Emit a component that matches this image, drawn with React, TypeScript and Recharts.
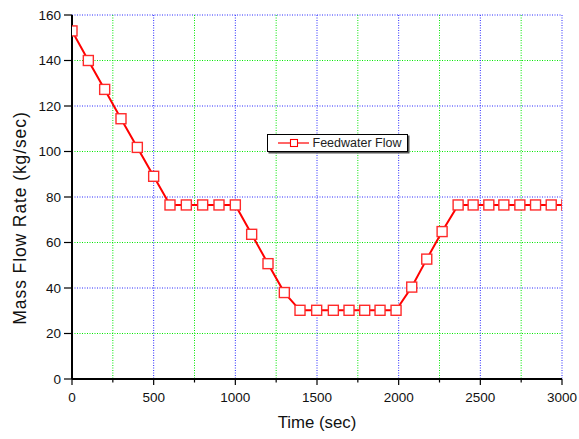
import React from 'react';
import {
  LineChart,
  Line,
  XAxis,
  YAxis,
  CartesianGrid,
} from 'recharts';

// Feedwater flow transient: time (sec) and mass flow rate (kg/sec)
const timeSec = [
  0, 100, 200, 300, 400, 500, 600, 700, 800, 900, 1000, 1100, 1200, 1300,
  1396, 1498, 1600, 1696, 1792, 1886, 1984, 2080, 2172, 2266, 2364, 2456,
  2552, 2644, 2742, 2838, 2934, 3030,
];
const flowKgPerSec = [
  153, 140, 127.3, 114.4, 101.8, 89.1, 76.5, 76.5, 76.5, 76.5, 76.5, 63.6,
  50.7, 38.0, 30.2, 30.2, 30.2, 30.2, 30.2, 30.2, 30.2, 40.4, 52.7, 64.8,
  76.5, 76.5, 76.5, 76.5, 76.5, 76.5, 76.5, 76.5,
];

// Axis ticks: majors are labelled, minors only get a short tick and a grid line
const xTicks = [0, 250, 500, 750, 1000, 1250, 1500, 1750, 2000, 2250, 2500, 2750, 3000];
const yTicks = [0, 10, 20, 30, 40, 50, 60, 70, 80, 90, 100, 110, 120, 130, 140, 150, 160];
const xMajorStep = 500;
const yMajorStep = 20;

const seriesName = 'Feedwater Flow';
const xTitle = 'Time (sec)';
const yTitle = 'Mass Flow Rate (kg/sec)';

const data = timeSec.map((t, i) => ({ t, flow: flowKgPerSec[i] }));

const FONT = '"Liberation Sans", Arial, Helvetica, sans-serif';
const LINE_RED = '#ff0000';
const GRID_BLUE = '#2a2aff';
const GRID_GREEN = '#00e800';

const XTick = (props: any) => {
  const { x, y, payload } = props;
  const major = payload.value % xMajorStep === 0;
  return (
    <g>
      <line x1={x} y1={y} x2={x} y2={y + (major ? 6 : 3.5)} stroke="#000" strokeWidth={1.2} />
      {major && (
        <text x={x} y={y + 22.7} textAnchor="middle" fontFamily={FONT} fontSize={13.5} fill="#111">
          {payload.value}
        </text>
      )}
    </g>
  );
};

const YTick = (props: any) => {
  const { x, y, payload } = props;
  const major = payload.value % yMajorStep === 0;
  return (
    <g>
      <line x1={x} y1={y} x2={x - (major ? 8 : 4)} y2={y} stroke="#000" strokeWidth={1.2} />
      {major && (
        <text x={x - 11} y={y + 4.6} textAnchor="end" fontFamily={FONT} fontSize={13.5} fill="#111">
          {payload.value}
        </text>
      )}
    </g>
  );
};

// Ticks alternate major/minor, so even indices are the major grid lines
const gridLine = (p: any) => {
  const major = p.index % 2 === 0;
  return (
    <line
      key={p.key}
      x1={p.x1}
      y1={p.y1}
      x2={p.x2}
      y2={p.y2}
      stroke={major ? GRID_BLUE : GRID_GREEN}
      strokeWidth={1}
      strokeDasharray="1 1.5"
    />
  );
};

const SquareDot = (props: any) => {
  const { cx, cy, index } = props;
  if (cx == null || cy == null) return <g key={`d-${index}`} />;
  return (
    <rect
      key={`d-${index}`}
      x={cx - 5}
      y={cy - 5}
      width={10}
      height={10}
      fill="#ffffff"
      stroke="#ff2a2a"
      strokeWidth={1.4}
    />
  );
};

const LegendBox = () => (
  <div
    style={{
      position: 'absolute',
      left: 267,
      top: 134,
      boxSizing: 'border-box',
      width: 141,
      height: 18,
      border: '1px solid #000',
      boxShadow: '1.5px 1.5px 0 #555',
      background: '#fff',
      fontFamily: FONT,
    }}
  >
    <svg width={44} height={16} style={{ position: 'absolute', left: 0, top: 0 }}>
      <line x1={10} y1={8} x2={41} y2={8} stroke={LINE_RED} strokeWidth={1.2} />
      <rect x={22.5} y={4.5} width={7} height={7} fill="#fff" stroke={LINE_RED} strokeWidth={1.1} />
    </svg>
    <span
      style={{
        position: 'absolute',
        left: 44.5,
        top: 1,
        fontSize: 12.5,
        lineHeight: '15px',
        color: '#222',
        whiteSpace: 'nowrap',
      }}
    >
      {seriesName}
    </span>
  </div>
);

export default function App() {
  return (
    <div style={{ position: 'absolute', left: 0, top: 0, width: 579, height: 439, background: '#fff' }}>
      <LineChart
        width={579}
        height={439}
        data={data}
        margin={{ top: 15, right: 17, bottom: 0, left: 0 }}
      >
        <CartesianGrid horizontal={gridLine} vertical={gridLine} />
        <XAxis
          dataKey="t"
          type="number"
          domain={[0, 3000]}
          ticks={xTicks}
          allowDataOverflow
          height={60}
          tickSize={0}
          tickMargin={0}
          tickLine={false}
          tick={<XTick />}
          axisLine={{ stroke: '#000', strokeWidth: 2 }}
          label={{
            content: () => (
              <text x={317} y={428.3} textAnchor="middle" fontFamily={FONT} fontSize={16.8} fill="#111">
                {xTitle}
              </text>
            ),
          }}
        />
        <XAxis
          xAxisId="top"
          orientation="top"
          dataKey="t"
          type="number"
          domain={[0, 3000]}
          allowDataOverflow
          height={0}
          tick={false}
          tickLine={false}
          axisLine={{ stroke: '#000', strokeWidth: 1.5 }}
        />
        <YAxis
          type="number"
          domain={[0, 160]}
          ticks={yTicks}
          width={72}
          tickSize={0}
          tickMargin={0}
          tickLine={false}
          tick={<YTick />}
          axisLine={{ stroke: '#000', strokeWidth: 2 }}
          label={{
            content: () => (
              <text
                x={26}
                y={218}
                transform="rotate(-90 26 218)"
                textAnchor="middle"
                fontFamily={FONT}
                fontSize={17.5}
                letterSpacing={0.9}
                fill="#111"
              >
                {yTitle}
              </text>
            ),
          }}
        />
        <YAxis
          yAxisId="right"
          orientation="right"
          type="number"
          domain={[0, 160]}
          width={0}
          tick={false}
          tickLine={false}
          axisLine={{ stroke: '#8a8a8a', strokeWidth: 2.5 }}
        />
        <Line
          type="linear"
          dataKey="flow"
          name={seriesName}
          stroke={LINE_RED}
          strokeWidth={2}
          dot={<SquareDot />}
          activeDot={false}
          isAnimationActive={false}
        />
      </LineChart>
      <LegendBox />
    </div>
  );
}
